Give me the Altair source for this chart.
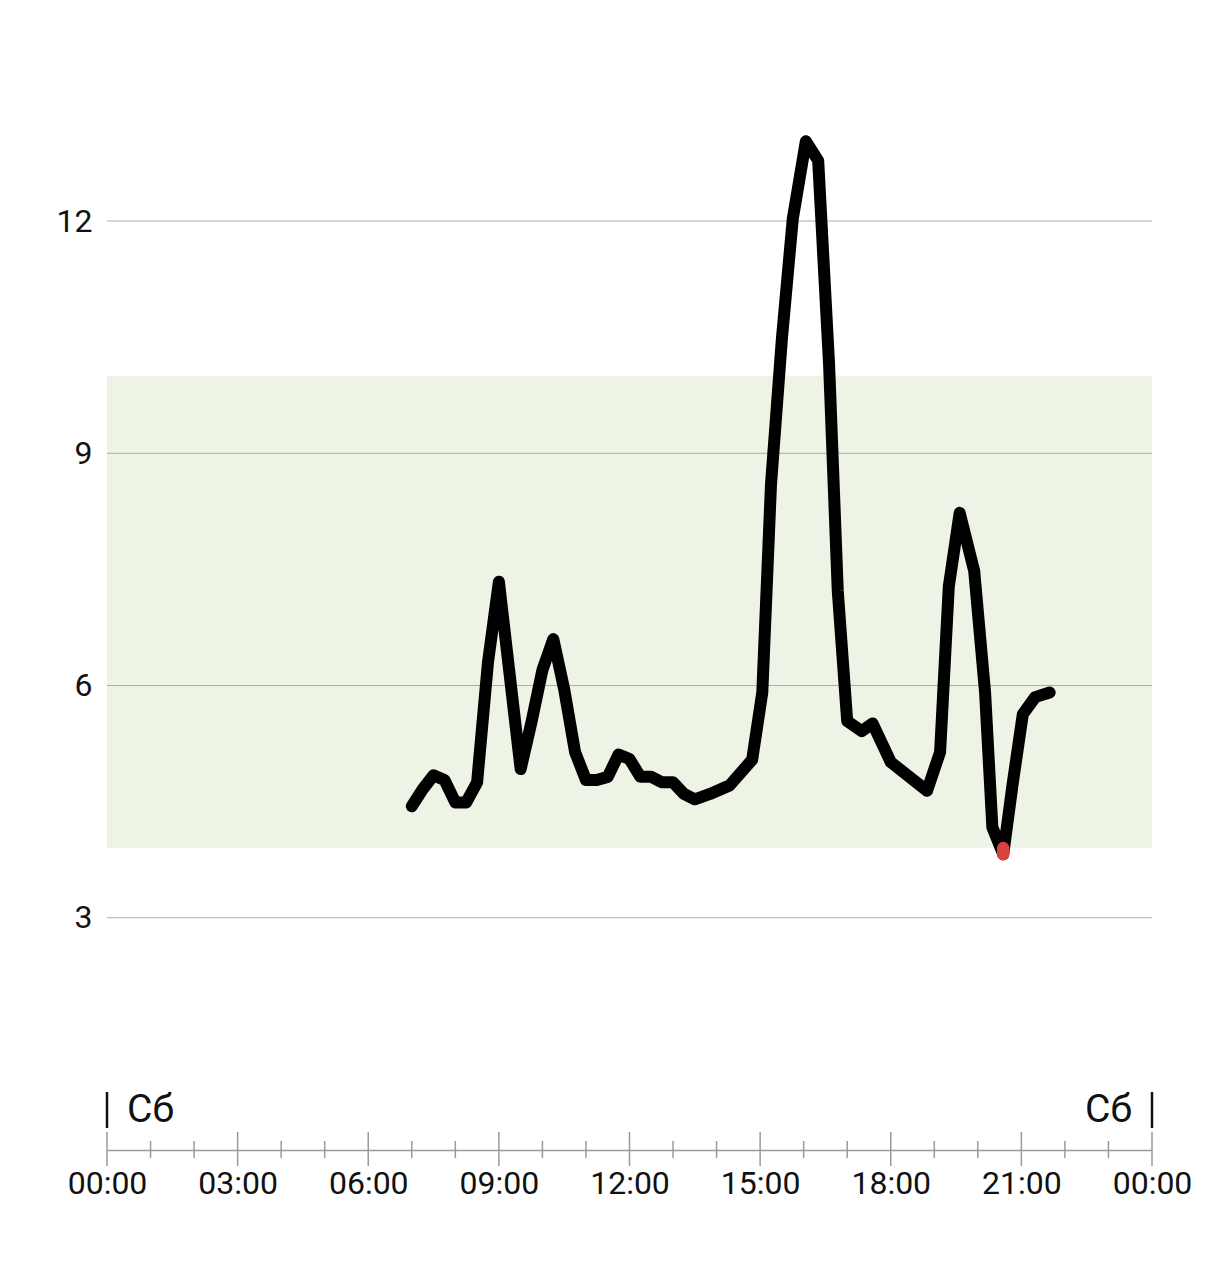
import altair as alt
import pandas as pd

# ---- data ----
times = ["07:00", "07:15", "07:30", "07:45", "08:00", "08:15", "08:30", "08:45",
         "09:00", "09:30", "09:45", "10:00", "10:15", "10:30", "10:45", "11:00",
         "11:15", "11:30", "11:45", "12:00", "12:15", "12:30", "12:45", "13:00",
         "13:15", "13:30", "13:51", "14:18", "14:49", "15:03", "15:15", "15:30",
         "15:45", "16:03", "16:20", "16:35", "16:47", "17:00", "17:20", "17:35",
         "18:00", "18:50", "19:08", "19:20", "19:35", "19:55", "20:10", "20:20",
         "20:35", "20:48", "21:02", "21:19", "21:39"]
values = [4.44, 4.66, 4.84, 4.78, 4.49, 4.49, 4.75, 6.30,
          7.34, 4.92, 5.53, 6.20, 6.60, 5.95, 5.14, 4.78,
          4.78, 4.82, 5.11, 5.05, 4.82, 4.82, 4.75, 4.75,
          4.60, 4.53, 4.60, 4.71, 5.04, 5.91, 8.60, 10.48,
          12.03, 13.03, 12.78, 10.15, 7.22, 5.54, 5.41, 5.51,
          5.01, 4.64, 5.14, 7.28, 8.23, 7.48, 5.91, 4.17,
          3.82, 4.73, 5.63, 5.85, 5.91]

range_low = 3.9
range_high = 10.0
y_ticks = [3, 6, 9, 12]
x_label_hours = [0, 3, 6, 9, 12, 15, 18, 21, 24]
day_labels = ["Сб", "Сб"]

# ---- derived tables ----
def to_hours(s):
    h, m = s.split(":")
    return int(h) + int(m) / 60.0

df = pd.DataFrame({"h": [to_hours(t) for t in times], "v": values})
low_df = df[df["v"] < range_low].assign(lim=range_low)
band_df = pd.DataFrame({"x": [0], "x2": [24], "y": [range_low], "y2": [range_high]})
grid_df = pd.DataFrame({"v": y_ticks, "x": 0, "x2": 24})
hours_df = pd.DataFrame({"h": list(range(25))})
hours_df["major"] = hours_df["h"] % 3 == 0
day_df = pd.DataFrame({"h": [0, 24], "label": day_labels})

W, H = 1045, 1138
FONT = "Roboto"
LABEL_SIZE = 32

xs = alt.Scale(domain=[0, 24], nice=False, zero=False)
ys = alt.Scale(domain=[0, 14.7], nice=False, zero=False)

x_axis = alt.Axis(values=x_label_hours, labelExpr="format(datum.value % 24, '02d') + ':00'",
                  ticks=False, grid=False, domain=True, domainColor="#9a9a9a",
                  domainWidth=1.5, labelFontSize=LABEL_SIZE, labelFont=FONT, labelColor="#111",
                  labelPadding=18, title=None, labelFlush=False)
y_axis = alt.Axis(values=y_ticks, format="d", ticks=False, grid=False, domain=False,
                  labelFontSize=LABEL_SIZE, labelFont=FONT, labelColor="#111",
                  labelPadding=15, title=None)

band = alt.Chart(band_df).mark_rect(color="#edf4e5").encode(
    x=alt.X("x:Q", scale=xs, axis=x_axis), x2="x2:Q",
    y=alt.Y("y:Q", scale=ys, axis=y_axis), y2="y2:Q")

grid = alt.Chart(grid_df).mark_rule(color="#ababab", strokeWidth=1.2).encode(
    x=alt.X("x:Q", scale=xs), x2="x2:Q", y=alt.Y("v:Q", scale=ys))

major = alt.Chart(hours_df[hours_df["major"]]).mark_rule(color="#9a9a9a", strokeWidth=1.5).encode(
    x=alt.X("h:Q", scale=xs), y=alt.value(H - 18), y2=alt.value(H + 16))
minor = alt.Chart(hours_df[~hours_df["major"]]).mark_rule(color="#9a9a9a", strokeWidth=1.5).encode(
    x=alt.X("h:Q", scale=xs), y=alt.value(H - 9), y2=alt.value(H + 8))

pipes = alt.Chart(day_df).mark_rule(color="#111", strokeWidth=2.5).encode(
    x=alt.X("h:Q", scale=xs), y=alt.value(H - 58), y2=alt.value(H - 22))
day_left = alt.Chart(day_df.iloc[[0]]).mark_text(
    align="left", baseline="alphabetic", dx=20, fontSize=39, font=FONT, color="#111").encode(
    x=alt.X("h:Q", scale=xs), y=alt.value(H - 28), text="label:N")
day_right = alt.Chart(day_df.iloc[[1]]).mark_text(
    align="right", baseline="alphabetic", dx=-20, fontSize=39, font=FONT, color="#111").encode(
    x=alt.X("h:Q", scale=xs), y=alt.value(H - 28), text="label:N")

line = alt.Chart(df).mark_line(color="#000", strokeWidth=12, strokeCap="round",
                               strokeJoin="round").encode(
    x=alt.X("h:Q", scale=xs), y=alt.Y("v:Q", scale=ys))

low = alt.Chart(low_df).mark_rule(color="#d9413e", strokeWidth=12.5, strokeCap="round").encode(
    x=alt.X("h:Q", scale=xs), y=alt.Y("v:Q", scale=ys), y2="lim:Q")

chart = alt.layer(band, grid, major, minor, pipes, day_left, day_right, line, low).properties(
    width=W, height=H,
    autosize=alt.AutoSizeParams(type="none"),
    padding={"left": 99, "top": 4, "right": 46, "bottom": 80},
    background="white",
).configure_view(stroke=None)

chart.save("out.html", embed_options={"renderer": "svg", "actions": False})
